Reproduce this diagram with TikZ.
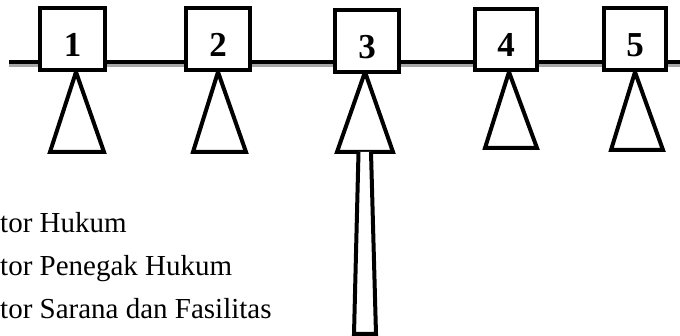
\documentclass[tikz,border=0pt]{standalone}
\usepackage{fontspec}
\setmainfont{Liberation Serif}
\begin{document}
\begin{tikzpicture}[x=1pt,y=-1pt,
  frame/.style={draw=black,line width=4pt,fill=white},
  num/.style={anchor=base,inner sep=0pt,font=\fontsize{35}{35}\selectfont\bfseries},
  label/.style={anchor=base west,inner sep=0pt,font=\fontsize{29}{29}\selectfont},
  rail/.style={line width=4pt},
  railshadow/.style={line width=4pt,draw=black!35}]
\useasboundingbox (0,0) rectangle (680,336);

% horizontal rail with its shadow
\coordinate (railL) at (9,62);
\coordinate (railR) at (682,62);
\draw[railshadow] ([yshift=-3.5pt]railL) -- ([yshift=-3.5pt]railR);
\draw[rail] (railL) -- (railR);

% supports: apex under each box, base line below
\foreach \n/\ax/\bl/\br/\by in {1/76/50/104/152, 2/218/193/246/152, 3/365/337/393/152, 4/509/485/537/148, 5/635/611/663/150}{
  \coordinate (apex\n) at (\ax,72);
  \coordinate (baseL\n) at (\bl,\by);
  \coordinate (baseR\n) at (\br,\by);
  \draw[frame,line join=miter] (apex\n) -- (baseL\n) -- (baseR\n) -- cycle;
}

% long tapered post under support 3
\coordinate (postTL) at (358.5,152);
\coordinate (postTR) at (371,152);
\coordinate (postBR) at (376,334);
\coordinate (postBL) at (354,334);
\draw[frame,line width=4pt] (postTL) -- (postBL) -- (postBR) -- (postTR);

% numbered boxes
\foreach \n/\xl/\xr/\yt/\yb/\nb in {1/40/105/8/70/57, 2/186/250/8/70/57, 3/335/399/10/72/59, 4/475/537/9/70/57, 5/604/666/8/70/57}{
  \draw[frame] (\xl,\yt) rectangle (\xr,\yb);
  \node[num] (box\n) at ({(\xl+\xr)/2},\nb) {\n};
}

% legend lines
\node[label] (f1) at (-43.5,233) {Faktor Hukum};
\node[label] (f2) at (-43.5,276) {Faktor Penegak Hukum};
\node[label] (f3) at (-43.5,319) {Faktor Sarana dan Fasilitas};
\end{tikzpicture}
\end{document}
